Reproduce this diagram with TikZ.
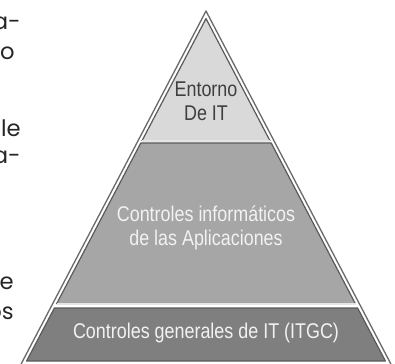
\documentclass[tikz,border=0pt]{standalone}
\usepackage{fontspec}
\setmainfont{Liberation Sans}
\newfontfamily\narrowfont[FakeStretch=0.84]{Liberation Sans}
\newfontfamily\gothicfont{Poppins}
\usetikzlibrary{positioning}
\usetikzlibrary{calc}
\definecolor{edgeGray}{HTML}{5A5A5A}
\definecolor{topGray}{HTML}{D9D9D9}
\definecolor{midGray}{HTML}{A6A6A6}
\definecolor{lowGray}{HTML}{7F7F7F}
\definecolor{txtDark}{HTML}{3F3F3F}
\definecolor{txtLight}{HTML}{F2F2F2}
\tikzset{%
	% Specifications for style of layers:
	layer/.style = {draw=edgeGray, line width=0.9pt, line join=round},
	rim/.style = {draw=white!80!gray, line width=0.9pt},
	outline/.style = {draw=edgeGray!90!white, line width=1pt, line join=round},
	% Specifications for style of texts:
	label/.style = {font=\narrowfont\fontsize{16pt}{18pt}\selectfont,
		align=center, inner sep=0pt},
	margin/.style = {font=\gothicfont\fontsize{17pt}{20pt}\selectfont,
		anchor=base east, inner sep=0pt, text=black!85},
}
\begin{document}
\begin{tikzpicture}[x=0.75pt, y=-0.75pt]
	\useasboundingbox (0,0) rectangle (395,363);
	
	% cut text of the page beside the picture
	\node (lineA) [margin] at (21,30) {a-};
	\node (lineB) [margin] at (15,60) {o};
	\node (lineC) [margin] at (21,137) {le};
	\node (lineD) [margin] at (21,163) {a-};
	\node (lineE) [margin] at (14,289) {e};
	\node (lineF) [margin] at (14,319) {os};
	
	% outer rim of the pyramid
	\draw [outline] (21.1,364) -- (206,11) -- (390.9,364);
	
	% top layer
	\fill [topGray] (206,18.6) -- (270.1,141) -- (141.9,141) -- cycle;
	\draw [layer] (141.9,141) -- (206,18.6) -- (270.1,141);
	\draw [rim] (141.9,141) -- (270.1,141);
	
	% middle layer
	\fill [midGray] (140.8,143) -- (271.2,143) -- (355.5,304) -- (56.5,304) -- cycle;
	\draw [layer] (56.5,304) -- (140.8,143) -- (271.2,143) -- (355.5,304);
	\draw [rim] (56.5,304) -- (355.5,304);
	
	% bottom layer
	\fill [lowGray] (54.4,308) -- (357.6,308) -- (385.4,361) -- (26.6,361) -- cycle;
	\draw [layer] (26.6,361) -- (54.4,308) -- (357.6,308) -- (385.4,361) -- cycle;
	
	\node (envIT) [label, text=txtDark] at (206,101.5) {Entorno\\De IT};
	\node (appCtrl) [label, text=txtLight] at (206,228) {Controles inform\'aticos\\de las Aplicaciones};
	\node (itgc) [label, text=txtLight] at (206,333) {Controles generales de IT (ITGC)};
\end{tikzpicture}
\end{document}
